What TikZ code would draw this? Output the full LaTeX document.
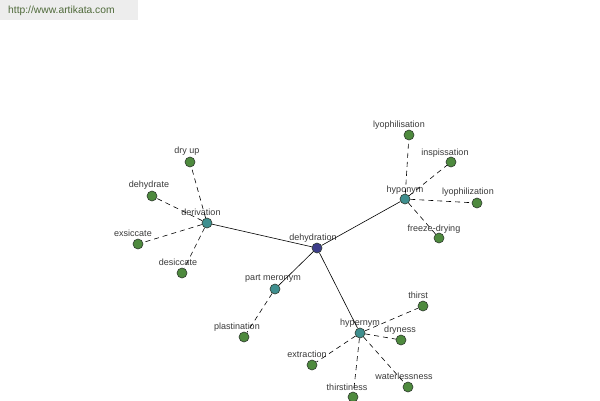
\documentclass[tikz,border=0pt]{standalone}
\usepackage{fontspec}
\setmainfont{Liberation Sans}
\usetikzlibrary{positioning}
\definecolor{Leaf}{HTML}{4E8A3E}
\definecolor{Rel}{HTML}{3F8F8F}
\definecolor{Root}{HTML}{3C3C8A}
\definecolor{Rim}{HTML}{2E3A2E}
\definecolor{Word}{HTML}{3A3A3A}
\definecolor{Web}{HTML}{4F6A3A}
\definecolor{Strip}{HTML}{EDEDED}
\tikzset{
 dot/.style={circle,draw=Rim,line width=.6pt,minimum size=10pt,inner sep=0pt},
 leaf/.style={dot,fill=Leaf},
 rel/.style={dot,fill=Rel},
 root/.style={dot,fill=Root},
 word/.style={font=\fontsize{9}{10}\selectfont,text=Word,inner sep=0pt,text height=1.5ex,text depth=.3ex},
 link/.style={draw=black,line width=.6pt},
 sub/.style={link,dashed,dash pattern=on 5pt off 4pt}
}
\begin{document}
\begin{tikzpicture}[x=1pt,y=-1pt]
\useasboundingbox (0,0) rectangle (600,400);
\fill[white] (0,0) rectangle (600,400);
\fill[Strip] (0,0) rectangle (138,20);
\node[anchor=west,font=\fontsize{10.3}{11}\selectfont,text=Web,inner sep=0pt] (site) at (8,11) {http://www.artikata.com};
\foreach \n/\x/\y/\lx/\ly/\t/\s in {
 dehydration/317/248/313/237/dehydration/root,
 derivation/207/223/201/212/derivation/rel,
 dryup/190/162/187/150/dry up/leaf,
 dehydrate/152/196/149/184/dehydrate/leaf,
 exsiccate/138/244/133/233/exsiccate/leaf,
 desiccate/182/273/178/262/desiccate/leaf,
 hyponym/405/199/405/189/hyponym/rel,
 lyophilisation/409/135/399/124/lyophilisation/leaf,
 inspissation/451/162/445/152/inspissation/leaf,
 lyophilization/477/203/468/191/lyophilization/leaf,
 freezedrying/439/238/434/228/freeze-drying/leaf,
 partmeronym/275/289/273/277/part meronym/rel,
 plastination/244/337/237/326/plastination/leaf,
 hypernym/360/333/360/322/hypernym/rel,
 thirst/423/306/418/295/thirst/leaf,
 dryness/401/340/400/329/dryness/leaf,
 extraction/312/365/307/354/extraction/leaf,
 thirstiness/353/397/347/387/thirstiness/leaf,
 waterlessness/408/387/404/376/waterlessness/leaf} {
 \node[word] (\n-l) at (\lx,\ly) {\t};
 \node[\s] (\n) at (\x,\y) {};
}
\foreach \b in {derivation,hyponym,partmeronym,hypernym}
 \draw[link] (dehydration) -- (\b);
\foreach \a/\b in {derivation/dryup,derivation/dehydrate,derivation/exsiccate,derivation/desiccate,
 hyponym/lyophilisation,hyponym/inspissation,hyponym/lyophilization,hyponym/freezedrying,
 partmeronym/plastination,
 hypernym/thirst,hypernym/dryness,hypernym/extraction,hypernym/thirstiness,hypernym/waterlessness}
 \draw[sub] (\a) -- (\b);
\end{tikzpicture}
\end{document}
